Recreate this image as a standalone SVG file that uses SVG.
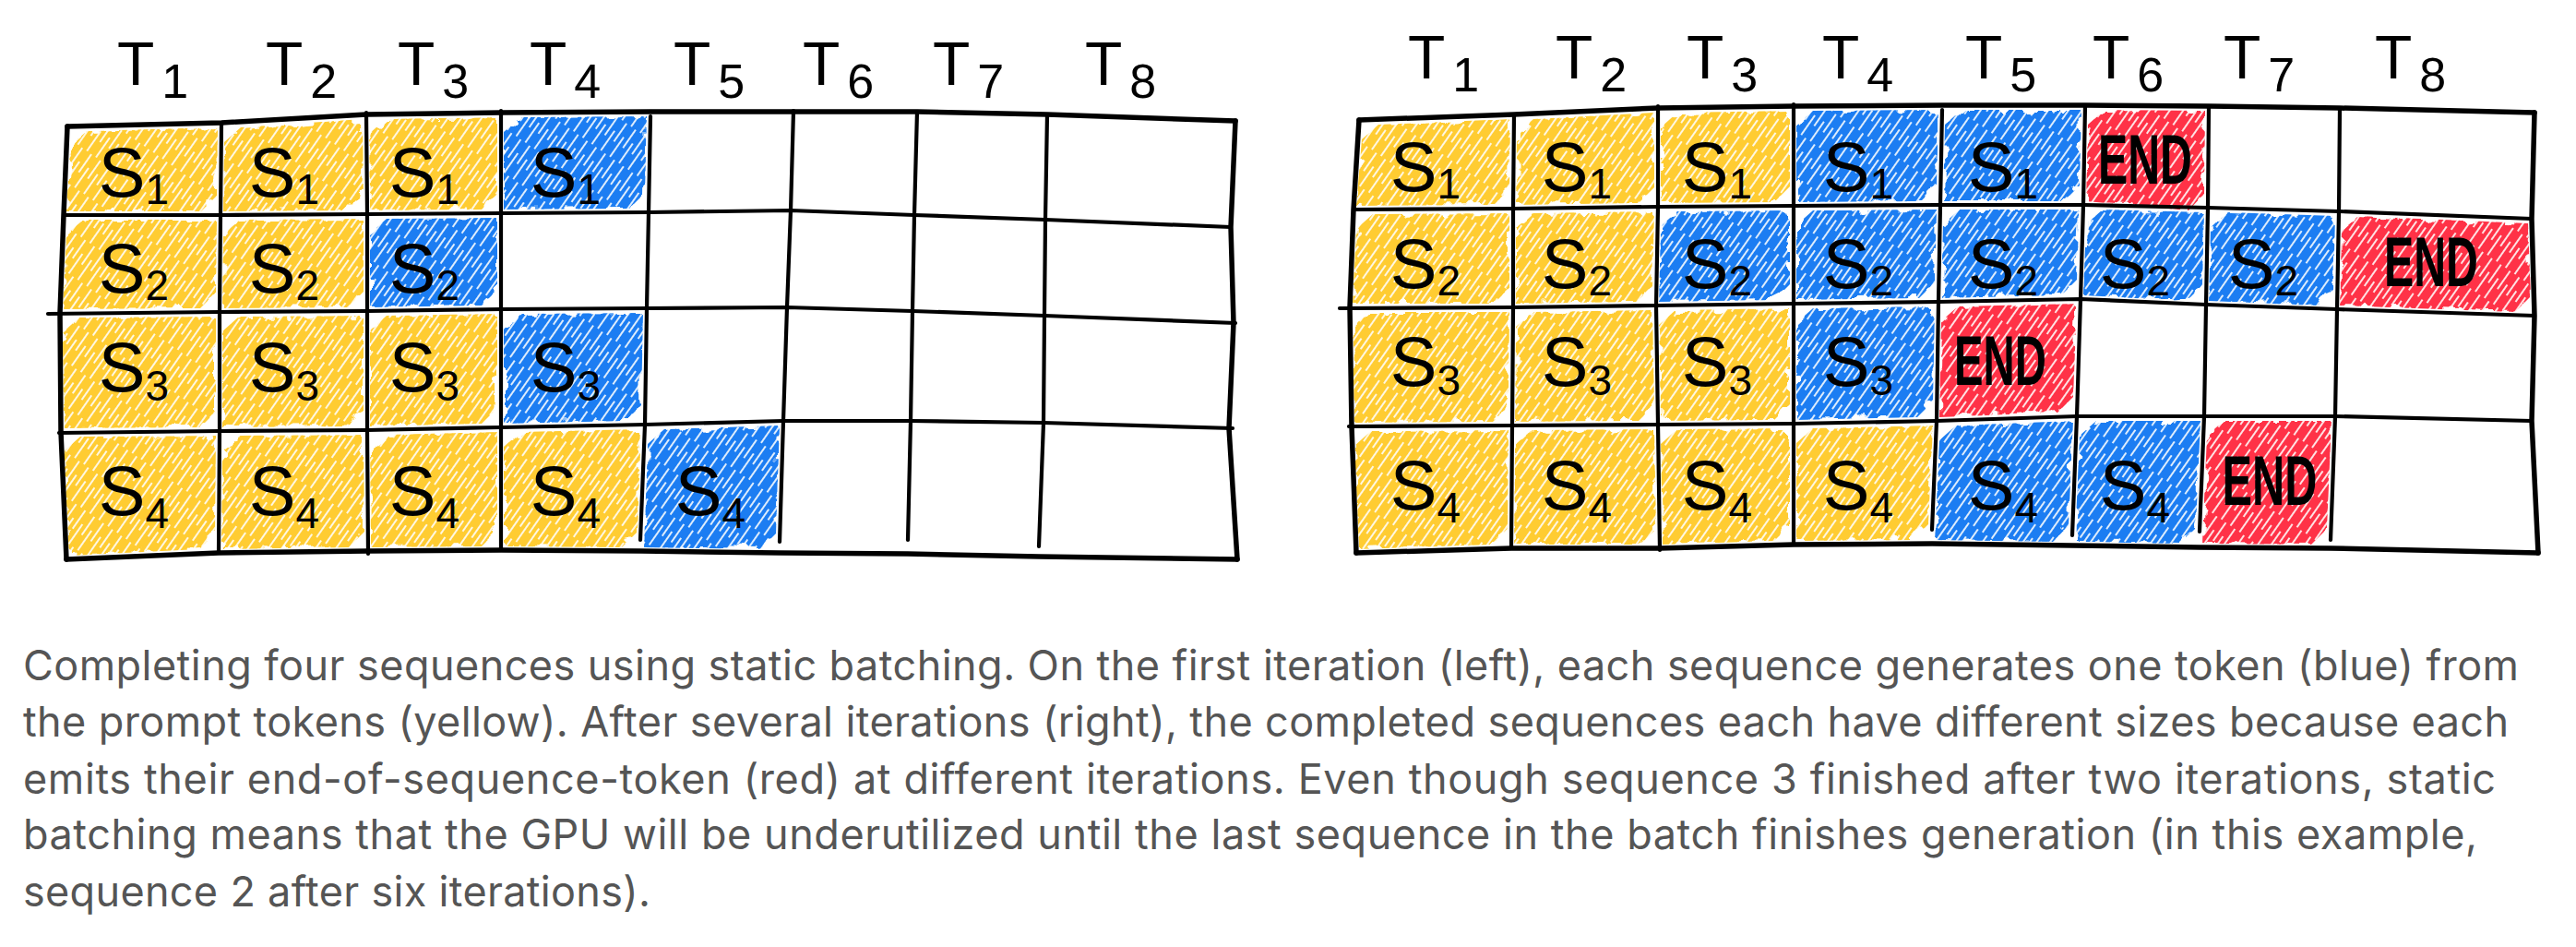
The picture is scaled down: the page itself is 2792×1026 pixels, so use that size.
<svg xmlns="http://www.w3.org/2000/svg" width="2792" height="1026" viewBox="0 0 2792 1026">
<style>
.g{fill:none;stroke:#000;stroke-width:4.2;stroke-linecap:round;stroke-linejoin:round}
.b{fill:none;stroke:#000;stroke-width:5.5;stroke-linecap:round;stroke-linejoin:round}
.hd{font-family:"Liberation Sans",Arial,sans-serif;font-size:66px;fill:#000}
.hs{font-size:52px}
.s{font-family:"Liberation Sans",Arial,sans-serif;font-size:76px;fill:#000;text-anchor:middle}
.ss{font-size:46px}
.e{font-family:"Liberation Sans",Arial,sans-serif;font-size:76px;font-weight:bold;fill:#000;text-anchor:middle}
.cap{font-family:Inter,"Noto Sans",sans-serif;font-size:45px;fill:#555}
.y{fill:url(#hY)}
.bl{fill:url(#hB)}
.r{fill:url(#hR)}
.f{filter:url(#rough)}
</style>
<defs>
<pattern id="hY" patternUnits="userSpaceOnUse" width="40" height="12" patternTransform="rotate(-55)">
<rect width="40" height="12" fill="#FFCC33"/>
<path d="M0 3H26M16 9H40" stroke="#fff" stroke-width="2.2" stroke-opacity="0.85"/>
</pattern>
<pattern id="hB" patternUnits="userSpaceOnUse" width="40" height="12" patternTransform="rotate(-55)">
<rect width="40" height="12" fill="#1A7DF2"/>
<path d="M0 3H26M16 9H40" stroke="#fff" stroke-width="2.2" stroke-opacity="0.85"/>
</pattern>
<pattern id="hR" patternUnits="userSpaceOnUse" width="40" height="12" patternTransform="rotate(-55)">
<rect width="40" height="12" fill="#FF3346"/>
<path d="M0 3H26M16 9H40" stroke="#fff" stroke-width="2.2" stroke-opacity="0.85"/>
</pattern>
<filter id="rough" x="-10%" y="-10%" width="120%" height="120%">
<feTurbulence type="fractalNoise" baseFrequency="0.07" numOctaves="2" seed="3" result="n"/>
<feDisplacementMap in="SourceAlpha" in2="n" scale="18" xChannelSelector="R" yChannelSelector="G" result="d"/>
<feComposite in="SourceGraphic" in2="d" operator="in"/>
</filter>
</defs>
<rect width="2792" height="1026" fill="#fff"/>

<g id="left-fills">
<g id="L-r1c1"><polygon class="y f" points="76,158 94,142 236,138 235,212 218,229 72,229"/><text class="s" x="145" y="213">S<tspan class="ss" dy="8">1</tspan></text></g>
<g id="L-r1c2"><polygon class="y f" points="243,154 261,138 393,129 394,211 377,228 242,229"/><text class="s" x="308" y="213">S<tspan class="ss" dy="8">1</tspan></text></g>
<g id="L-r1c3"><polygon class="y f" points="400,145 418,129 539,127 539,210 522,227 401,228"/><text class="s" x="460" y="213">S<tspan class="ss" dy="8">1</tspan></text></g>
<g id="L-r1c4"><polygon class="bl f" points="546,143 564,127 701,126 699,209 682,226 546,227"/><text class="s" x="613" y="213">S<tspan class="ss" dy="8">1</tspan></text></g>
<g id="L-r2c1"><polygon class="y f" points="72,254 90,238 235,238 234,317 217,334 68,335"/><text class="s" x="145" y="317">S<tspan class="ss" dy="8">2</tspan></text></g>
<g id="L-r2c2"><polygon class="y f" points="242,254 260,238 394,237 394,316 377,333 241,334"/><text class="s" x="308" y="317">S<tspan class="ss" dy="8">2</tspan></text></g>
<g id="L-r2c3"><polygon class="bl f" points="401,253 419,237 539,236 539,314 522,331 401,333"/><text class="s" x="460" y="317">S<tspan class="ss" dy="8">2</tspan></text></g>
<g id="L-r3c1"><polygon class="y f" points="68,360 86,344 234,343 234,446 217,463 69,464"/><text class="s" x="145" y="424">S<tspan class="ss" dy="10">3</tspan></text></g>
<g id="L-r3c2"><polygon class="y f" points="241,359 259,343 394,342 394,445 377,462 241,463"/><text class="s" x="308" y="424">S<tspan class="ss" dy="10">3</tspan></text></g>
<g id="L-r3c3"><polygon class="y f" points="401,358 419,342 539,340 539,442 522,459 401,462"/><text class="s" x="460" y="424">S<tspan class="ss" dy="10">3</tspan></text></g>
<g id="L-r3c4"><polygon class="bl f" points="546,356 564,340 697,339 695,439 678,456 546,459"/><text class="s" x="613" y="424">S<tspan class="ss" dy="10">3</tspan></text></g>
<g id="L-r4c1"><polygon class="y f" points="69,489 87,473 234,472 233,578 216,595 75,602"/><text class="s" x="145" y="558">S<tspan class="ss" dy="14">4</tspan></text></g>
<g id="L-r4c2"><polygon class="y f" points="241,488 259,472 394,471 395,576 378,593 240,595"/><text class="s" x="308" y="558">S<tspan class="ss" dy="14">4</tspan></text></g>
<g id="L-r4c3"><polygon class="y f" points="401,487 419,471 539,468 539,575 522,592 402,593"/><text class="s" x="460" y="558">S<tspan class="ss" dy="14">4</tspan></text></g>
<g id="L-r4c4"><polygon class="y f" points="546,484 564,468 695,465 691,576 674,593 546,592"/><text class="s" x="613" y="558">S<tspan class="ss" dy="14">4</tspan></text></g>
<g id="L-r4c5"><polygon class="bl f" points="702,481 720,465 845,461 841,578 824,595 698,593"/><text class="s" x="770" y="558">S<tspan class="ss" dy="14">4</tspan></text></g>
</g>

<g id="right-fills">
<g id="R-r1c1"><polygon class="y f" points="1476,151 1494,135 1637,129 1636,205 1619,222 1470,223"/><text class="s" x="1545" y="207">S<tspan class="ss" dy="8">1</tspan></text></g>
<g id="R-r1c2"><polygon class="y f" points="1644,145 1662,129 1793,122 1793,203 1776,220 1643,222"/><text class="s" x="1709" y="207">S<tspan class="ss" dy="8">1</tspan></text></g>
<g id="R-r1c3"><polygon class="y f" points="1800,138 1818,122 1940,120 1940,202 1923,219 1800,220"/><text class="s" x="1861" y="207">S<tspan class="ss" dy="8">1</tspan></text></g>
<g id="R-r1c4"><polygon class="bl f" points="1947,136 1965,120 2101,119 2099,201 2082,218 1947,219"/><text class="s" x="2014" y="207">S<tspan class="ss" dy="8">1</tspan></text></g>
<g id="R-r1c5"><polygon class="bl f" points="2108,135 2126,119 2256,119 2254,201 2237,218 2106,218"/><text class="s" x="2171" y="207">S<tspan class="ss" dy="8">1</tspan></text></g>
<g id="R-r1c6"><polygon class="r f" points="2263,135 2281,119 2390,120 2389,210 2372,228 2261,218"/><text class="e" x="2325" y="199" textLength="102" lengthAdjust="spacingAndGlyphs">END</text></g>
<g id="R-r2c1"><polygon class="y f" points="1470,248 1488,232 1636,231 1636,312 1619,329 1466,329"/><text class="s" x="1545" y="312">S<tspan class="ss" dy="8">2</tspan></text></g>
<g id="R-r2c2"><polygon class="y f" points="1643,247 1661,231 1793,229 1791,310 1774,327 1643,329"/><text class="s" x="1709" y="312">S<tspan class="ss" dy="8">2</tspan></text></g>
<g id="R-r2c3"><polygon class="bl f" points="1800,245 1818,229 1940,228 1940,308 1923,325 1798,327"/><text class="s" x="1861" y="312">S<tspan class="ss" dy="8">2</tspan></text></g>
<g id="R-r2c4"><polygon class="bl f" points="1947,244 1965,228 2099,227 2097,306 2080,323 1947,325"/><text class="s" x="2014" y="312">S<tspan class="ss" dy="8">2</tspan></text></g>
<g id="R-r2c5"><polygon class="bl f" points="2106,243 2124,227 2254,227 2251,303 2234,320 2104,323"/><text class="s" x="2171" y="312">S<tspan class="ss" dy="8">2</tspan></text></g>
<g id="R-r2c6"><polygon class="bl f" points="2261,243 2279,227 2389,230 2387,309 2370,326 2258,320"/><text class="s" x="2314" y="312">S<tspan class="ss" dy="8">2</tspan></text></g>
<g id="R-r2c7"><polygon class="bl f" points="2396,246 2414,230 2531,234 2529,314 2512,331 2394,326"/><text class="s" x="2453" y="312">S<tspan class="ss" dy="8">2</tspan></text></g>
<g id="R-r2c8"><polygon class="r f" points="2538,250 2556,234 2740,242 2743,321 2726,338 2536,331"/><text class="e" x="2635" y="310" textLength="102" lengthAdjust="spacingAndGlyphs">END</text></g>
<g id="R-r3c1"><polygon class="y f" points="1466,354 1484,338 1636,338 1635,440 1618,457 1468,458"/><text class="s" x="1545" y="418">S<tspan class="ss" dy="10">3</tspan></text></g>
<g id="R-r3c2"><polygon class="y f" points="1643,354 1661,338 1791,336 1793,439 1776,456 1642,457"/><text class="s" x="1709" y="418">S<tspan class="ss" dy="10">3</tspan></text></g>
<g id="R-r3c3"><polygon class="y f" points="1798,352 1816,336 1940,334 1940,438 1923,455 1800,456"/><text class="s" x="1861" y="418">S<tspan class="ss" dy="10">3</tspan></text></g>
<g id="R-r3c4"><polygon class="bl f" points="1947,350 1965,334 2097,332 2095,435 2078,452 1947,455"/><text class="s" x="2014" y="418">S<tspan class="ss" dy="10">3</tspan></text></g>
<g id="R-r3c5"><polygon class="r f" points="2104,348 2122,332 2251,329 2247,430 2230,447 2102,452"/><text class="e" x="2168" y="417" textLength="100" lengthAdjust="spacingAndGlyphs">END</text></g>
<g id="R-r4c1"><polygon class="y f" points="1468,483 1486,467 1635,466 1634,573 1617,590 1473,595"/><text class="s" x="1545" y="552">S<tspan class="ss" dy="14">4</tspan></text></g>
<g id="R-r4c2"><polygon class="y f" points="1642,482 1660,466 1793,465 1795,573 1778,590 1641,590"/><text class="s" x="1709" y="552">S<tspan class="ss" dy="14">4</tspan></text></g>
<g id="R-r4c3"><polygon class="y f" points="1800,481 1818,465 1940,464 1940,569 1923,586 1802,590"/><text class="s" x="1861" y="552">S<tspan class="ss" dy="14">4</tspan></text></g>
<g id="R-r4c4"><polygon class="y f" points="1947,480 1965,464 2095,461 2090,568 2073,585 1947,586"/><text class="s" x="2014" y="552">S<tspan class="ss" dy="14">4</tspan></text></g>
<g id="R-r4c5"><polygon class="bl f" points="2102,477 2120,461 2247,456 2242,570 2225,587 2097,585"/><text class="s" x="2171" y="552">S<tspan class="ss" dy="14">4</tspan></text></g>
<g id="R-r4c6"><polygon class="bl f" points="2254,472 2272,456 2385,456 2380,572 2363,589 2249,587"/><text class="s" x="2314" y="552">S<tspan class="ss" dy="14">4</tspan></text></g>
<g id="R-r4c7"><polygon class="r f" points="2392,472 2410,456 2527,456 2522,573 2505,590 2387,589"/><text class="e" x="2460" y="547" textLength="103" lengthAdjust="spacingAndGlyphs">END</text></g>
</g>

<g id="connectors">
<g id="left-grid">
<path class="b" d="M73,137 L240,133 L397,124 L543,122 L705,121 L860,121 L994,121 L1135,124 L1339,131"/>
<path class="b" d="M1339,131 L1334,246 L1337,350 L1332,464 L1341,606"/>
<path class="b" d="M72,606 L237,599 L399,597 L543,596 L695,597 L845,599 L984,600 L1126,603 L1341,606"/>
<path class="b" d="M73,137 L69,233 L65,339 L66,468 L72,606"/>
<path class="g" d="M69,233 L239,233 L398,232 L543,231 L703,230 L857,228 L991,233 L1133,238 L1334,246"/>
<path class="g" d="M52,340 L238,338 L398,337 L543,335 L701,334 L853,333 L989,337 L1132,342 L1339,350"/>
<path class="g" d="M64,469 L238,467 L398,466 L543,463 L699,460 L849,456 L987,456 L1131,458 L1336,464"/>
<path class="g" d="M240,133 L239,233 L238,338 L238,467 L237,599"/>
<path class="g" d="M397,122 L398,232 L398,337 L398,466 L399,600"/>
<path class="g" d="M543,120 L543,231 L543,335 L543,463 L543,596"/>
<path class="g" d="M705,126 L703,230 L701,334 L699,460 L694,585"/>
<path class="g" d="M860,120 L857,228 L853,333 L849,456 L845,587"/>
<path class="g" d="M994,121 L991,233 L989,337 L987,456 L984,585"/>
<path class="g" d="M1135,124 L1133,238 L1132,342 L1131,458 L1126,592"/>
</g>
<g id="right-grid">
<path class="b" d="M1473,130 L1641,124 L1797,117 L1944,115 L2105,114 L2260,114 L2394,115 L2536,117 L2747,122"/>
<path class="b" d="M2747,122 L2744,237 L2747,342 L2744,456 L2751,599"/>
<path class="b" d="M1470,599 L1638,594 L1799,594 L1944,590 L2094,589 L2246,591 L2384,593 L2526,594 L2751,599"/>
<path class="b" d="M1473,130 L1467,227 L1463,333 L1465,462 L1470,599"/>
<path class="g" d="M1467,227 L1640,226 L1797,224 L1944,223 L2103,222 L2258,222 L2393,225 L2535,229 L2744,237"/>
<path class="g" d="M1452,334 L1640,333 L1795,331 L1944,329 L2101,327 L2255,324 L2391,330 L2533,335 L2747,342"/>
<path class="g" d="M1462,462 L1639,461 L1797,460 L1944,459 L2099,456 L2251,451 L2389,451 L2531,451 L2744,456"/>
<path class="g" d="M1641,124 L1640,226 L1640,333 L1639,461 L1638,594"/>
<path class="g" d="M1797,115 L1797,224 L1795,331 L1797,460 L1799,596"/>
<path class="g" d="M1944,113 L1944,223 L1944,329 L1944,459 L1944,590"/>
<path class="g" d="M2105,119 L2103,222 L2101,327 L2099,456 L2094,574"/>
<path class="g" d="M2260,114 L2258,222 L2255,324 L2251,451 L2246,580"/>
<path class="g" d="M2394,115 L2393,225 L2391,330 L2389,451 L2384,576"/>
<path class="g" d="M2536,117 L2535,229 L2533,335 L2531,451 L2526,585"/>
</g>
</g>

<g id="left-headers">
<text class="hd" x="127" y="92">T<tspan class="hs" dx="8" dy="14">1</tspan></text>
<text class="hd" x="288" y="92">T<tspan class="hs" dx="8" dy="14">2</tspan></text>
<text class="hd" x="431" y="92">T<tspan class="hs" dx="8" dy="14">3</tspan></text>
<text class="hd" x="574" y="92">T<tspan class="hs" dx="8" dy="14">4</tspan></text>
<text class="hd" x="730" y="92">T<tspan class="hs" dx="8" dy="14">5</tspan></text>
<text class="hd" x="870" y="92">T<tspan class="hs" dx="8" dy="14">6</tspan></text>
<text class="hd" x="1011" y="92">T<tspan class="hs" dx="8" dy="14">7</tspan></text>
<text class="hd" x="1176" y="92">T<tspan class="hs" dx="8" dy="14">8</tspan></text>
</g>
<g id="right-headers">
<text class="hd" x="1526" y="85">T<tspan class="hs" dx="8" dy="14">1</tspan></text>
<text class="hd" x="1686" y="85">T<tspan class="hs" dx="8" dy="14">2</tspan></text>
<text class="hd" x="1828" y="85">T<tspan class="hs" dx="8" dy="14">3</tspan></text>
<text class="hd" x="1975" y="85">T<tspan class="hs" dx="8" dy="14">4</tspan></text>
<text class="hd" x="2130" y="85">T<tspan class="hs" dx="8" dy="14">5</tspan></text>
<text class="hd" x="2268" y="85">T<tspan class="hs" dx="8" dy="14">6</tspan></text>
<text class="hd" x="2410" y="85">T<tspan class="hs" dx="8" dy="14">7</tspan></text>
<text class="hd" x="2574" y="85">T<tspan class="hs" dx="8" dy="14">8</tspan></text>
</g>

<g id="caption">
<text class="cap" x="25" y="737" textLength="2705" lengthAdjust="spacing">Completing four sequences using static batching. On the first iteration (left), each sequence generates one token (blue) from</text>
<text class="cap" x="25" y="798" textLength="2694" lengthAdjust="spacing">the prompt tokens (yellow). After several iterations (right), the completed sequences each have different sizes because each</text>
<text class="cap" x="25" y="860" textLength="2680" lengthAdjust="spacing">emits their end-of-sequence-token (red) at different iterations. Even though sequence 3 finished after two iterations, static</text>
<text class="cap" x="25" y="920" textLength="2660" lengthAdjust="spacing">batching means that the GPU will be underutilized until the last sequence in the batch finishes generation (in this example,</text>
<text class="cap" x="25" y="982" textLength="680" lengthAdjust="spacing">sequence 2 after six iterations).</text>
</g>
</svg>
